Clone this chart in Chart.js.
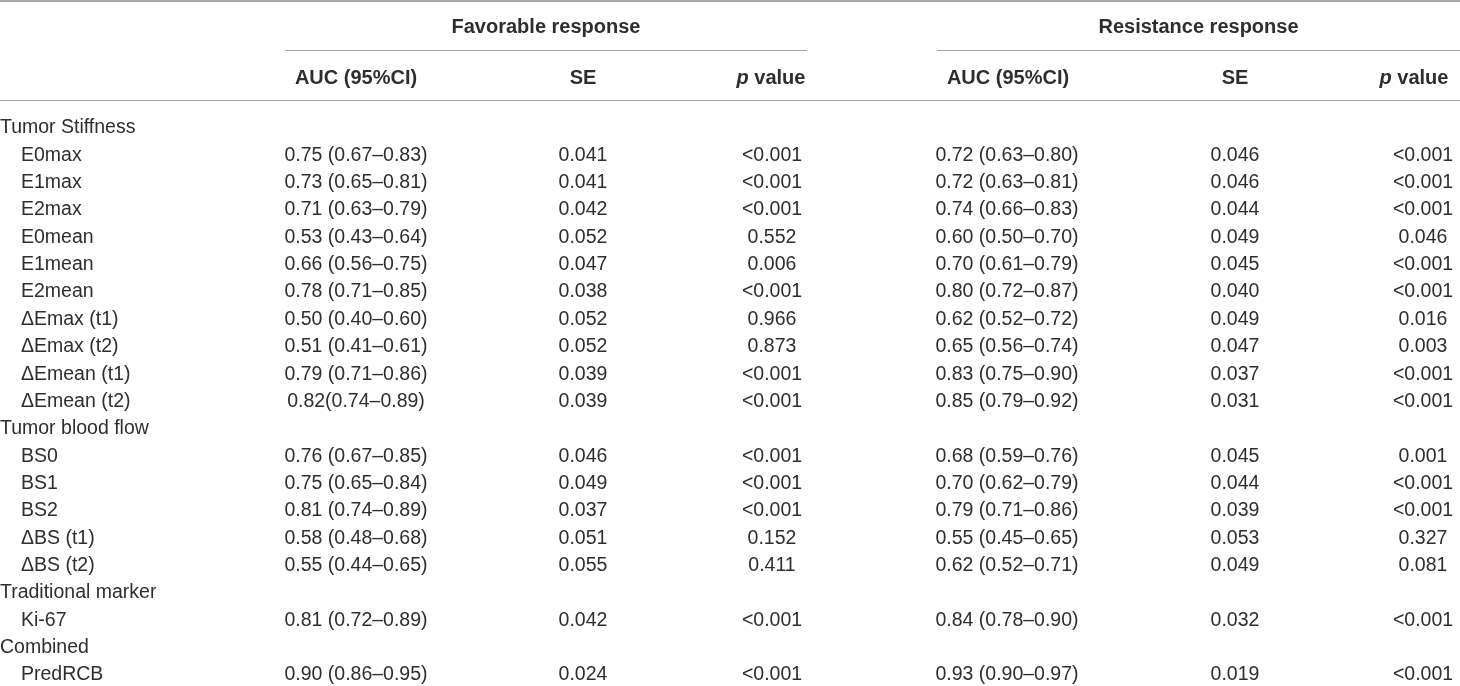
<!DOCTYPE html>
<html>
<head>
<meta charset="utf-8">
<title>AUC table</title>
<script src="https://cdn.jsdelivr.net/npm/chart.js@4.4.1/dist/chart.umd.min.js"></script>
<style>
  html, body { margin: 0; padding: 0; background: #fff; }
  canvas { display: block; }
</style>
</head>
<body>
<canvas id="tabla" width="1460" height="686"></canvas>
<script>
// filas de la tabla (grupos sin sangría, variables con sangría)
const rowLabels = [
  "Tumor Stiffness", "E0max", "E1max", "E2max", "E0mean", "E1mean", "E2mean",
  "ΔEmax (t1)", "ΔEmax (t2)", "ΔEmean (t1)", "ΔEmean (t2)",
  "Tumor blood flow", "BS0", "BS1", "BS2", "ΔBS (t1)", "ΔBS (t2)",
  "Traditional marker", "Ki-67", "Combined", "PredRCB"
];
const groupRows = ["Tumor Stiffness", "Tumor blood flow", "Traditional marker", "Combined"];

const groupTitles = ["Favorable response", "Resistance response"];
const columnTitles = ["AUC (95%CI)", "SE", "p value"];

// Favorable response
const favAuc = [
  "", "0.75 (0.67–0.83)", "0.73 (0.65–0.81)", "0.71 (0.63–0.79)", "0.53 (0.43–0.64)",
  "0.66 (0.56–0.75)", "0.78 (0.71–0.85)", "0.50 (0.40–0.60)", "0.51 (0.41–0.61)",
  "0.79 (0.71–0.86)", "0.82(0.74–0.89)",
  "", "0.76 (0.67–0.85)", "0.75 (0.65–0.84)", "0.81 (0.74–0.89)", "0.58 (0.48–0.68)", "0.55 (0.44–0.65)",
  "", "0.81 (0.72–0.89)", "", "0.90 (0.86–0.95)"
];
const favSe = [
  "", "0.041", "0.041", "0.042", "0.052", "0.047", "0.038", "0.052", "0.052", "0.039", "0.039",
  "", "0.046", "0.049", "0.037", "0.051", "0.055", "", "0.042", "", "0.024"
];
const favP = [
  "", "<0.001", "<0.001", "<0.001", "0.552", "0.006", "<0.001", "0.966", "0.873", "<0.001", "<0.001",
  "", "<0.001", "<0.001", "<0.001", "0.152", "0.411", "", "<0.001", "", "<0.001"
];

// Resistance response
const resAuc = [
  "", "0.72 (0.63–0.80)", "0.72 (0.63–0.81)", "0.74 (0.66–0.83)", "0.60 (0.50–0.70)",
  "0.70 (0.61–0.79)", "0.80 (0.72–0.87)", "0.62 (0.52–0.72)", "0.65 (0.56–0.74)",
  "0.83 (0.75–0.90)", "0.85 (0.79–0.92)",
  "", "0.68 (0.59–0.76)", "0.70 (0.62–0.79)", "0.79 (0.71–0.86)", "0.55 (0.45–0.65)", "0.62 (0.52–0.71)",
  "", "0.84 (0.78–0.90)", "", "0.93 (0.90–0.97)"
];
const resSe = [
  "", "0.046", "0.046", "0.044", "0.049", "0.045", "0.040", "0.049", "0.047", "0.037", "0.031",
  "", "0.045", "0.044", "0.039", "0.053", "0.049", "", "0.032", "", "0.019"
];
const resP = [
  "", "<0.001", "<0.001", "<0.001", "0.046", "<0.001", "<0.001", "0.016", "0.003", "<0.001", "<0.001",
  "", "0.001", "<0.001", "<0.001", "0.327", "0.081", "", "<0.001", "", "<0.001"
];

// layout (posiciones en el eje x de 0 a 1460)
const FONT = "'Liberation Sans', Arial, sans-serif";
const BODY = "19.5px " + FONT;
const HEAD = "bold 20px " + FONT;
const TEXT = "#2e2e2e";
const LINE = "#a6a6a6";
const blocks = [
  { title: groupTitles[0], span: [285, 807], cols: [356, 583, 772], heads: [356, 583, 771], data: [favAuc, favSe, favP] },
  { title: groupTitles[1], span: [937, 1460], cols: [1007, 1235, 1423], heads: [1008, 1235, 1414], data: [resAuc, resSe, resP] }
];

function drawHead(ctx, text, cx, y) {
  if (text === "p value") {
    ctx.font = "italic " + HEAD;
    const w1 = ctx.measureText("p").width;
    ctx.font = HEAD;
    const w2 = ctx.measureText(" value").width;
    const x0 = cx - (w1 + w2) / 2;
    ctx.textAlign = "left";
    ctx.font = "italic " + HEAD;
    ctx.fillText("p", x0, y);
    ctx.font = HEAD;
    ctx.fillText(" value", x0 + w1, y);
    return;
  }
  ctx.font = HEAD;
  ctx.textAlign = "center";
  ctx.fillText(text, cx, y);
}

const tablePlugin = {
  id: "tablePlugin",
  afterDraw(chart) {
    const ctx = chart.ctx;
    const xs = chart.scales.x;
    const ys = chart.scales.y;
    ctx.save();
    ctx.fillStyle = TEXT;
    ctx.textBaseline = "middle";

    // reglas horizontales
    ctx.strokeStyle = "#8c8c8c";
    ctx.lineWidth = 1.5;
    ctx.beginPath();
    ctx.moveTo(xs.getPixelForValue(0), 1);
    ctx.lineTo(xs.getPixelForValue(1460), 1);
    ctx.stroke();
    ctx.strokeStyle = LINE;
    ctx.lineWidth = 1.2;
    blocks.forEach(b => {
      ctx.beginPath();
      ctx.moveTo(xs.getPixelForValue(b.span[0]), 50.5);
      ctx.lineTo(xs.getPixelForValue(b.span[1]), 50.5);
      ctx.stroke();
    });
    ctx.beginPath();
    ctx.moveTo(xs.getPixelForValue(0), 100.5);
    ctx.lineTo(xs.getPixelForValue(1460), 100.5);
    ctx.stroke();

    // encabezados
    blocks.forEach(b => {
      ctx.font = HEAD;
      ctx.textAlign = "center";
      ctx.fillText(b.title, xs.getPixelForValue((b.span[0] + b.span[1]) / 2), 27);
      columnTitles.forEach((t, j) => drawHead(ctx, t, xs.getPixelForValue(b.heads[j]), 78));
    });

    // filas
    ctx.font = BODY;
    rowLabels.forEach((label, i) => {
      const y = ys.getPixelForValue(i);
      const indent = groupRows.includes(label) ? 0 : 21;
      ctx.textAlign = "left";
      ctx.fillText(label, xs.getPixelForValue(indent), y);
      ctx.textAlign = "center";
      blocks.forEach(b => {
        b.data.forEach((arr, j) => {
          if (arr[i]) ctx.fillText(arr[i], xs.getPixelForValue(b.cols[j]), y);
        });
      });
    });
    ctx.restore();
  }
};

new Chart(document.getElementById("tabla"), {
  type: "scatter",
  data: { labels: rowLabels, datasets: [] },
  options: {
    responsive: false,
    animation: false,
    events: [],
    layout: { padding: { top: 128, bottom: 11, left: 0, right: 0 } },
    plugins: { legend: { display: false }, tooltip: { enabled: false } },
    scales: {
      x: { type: "linear", min: 0, max: 1460, display: false },
      y: { type: "category", labels: rowLabels, offset: false, display: false }
    }
  },
  plugins: [tablePlugin]
});
</script>
</body>
</html>
